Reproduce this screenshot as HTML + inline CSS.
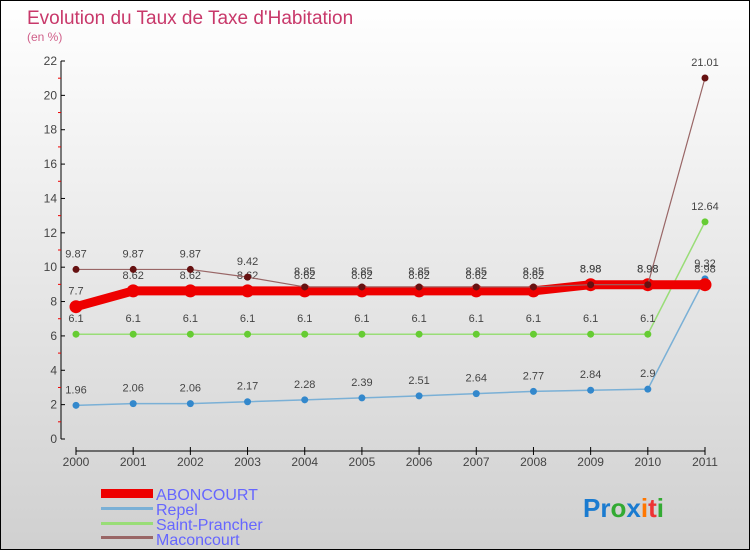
<!DOCTYPE html>
<html><head><meta charset="utf-8"><style>
body{margin:0}
#c{width:748px;height:548px;border:1px solid #000;background:linear-gradient(#ffffff,#d0d0d0);position:relative;font-family:"Liberation Sans",sans-serif}
</style></head><body>
<div id="c">
<svg id="s" width="748" height="548" style="position:absolute;left:0;top:0" font-family="Liberation Sans, sans-serif">
<text x="26" y="23" font-size="19" fill="#c8386a">Evolution du Taux de Taxe d'Habitation</text>
<text x="26" y="40" font-size="12" fill="#d0608a">(en %)</text>
<g id="axes"></g><g id="series"></g>
<g>
<rect x="100" y="488" width="52" height="9" fill="#e00"/>
<text x="155" y="499" font-size="16" fill="#6666ff">ABONCOURT</text>
<rect x="100" y="506" width="52" height="3" fill="#7ab0d6"/>
<text x="155" y="514" font-size="16" fill="#6666ff">Repel</text>
<rect x="100" y="521" width="52" height="3" fill="#99dd77"/>
<text x="155" y="529" font-size="16" fill="#6666ff">Saint-Prancher</text>
<rect x="100" y="535" width="52" height="3" fill="#996666"/>
<text x="155" y="544" font-size="16" fill="#6666ff">Maconcourt</text>
</g>
<text x="582" y="516" font-size="26" font-weight="bold"><tspan fill="#1a7bd0">Pr</tspan><tspan fill="#3a3">o</tspan><tspan fill="#1a7bd0">x</tspan><tspan fill="#f70">i</tspan><tspan fill="#e33">t</tspan><tspan fill="#3a3">i</tspan></text>
</svg>
</div>
<script>
const years=[2000,2001,2002,2003,2004,2005,2006,2007,2008,2009,2010,2011];
const yTicks=[0,2,4,6,8,10,12,14,16,18,20,22];
const aboncourt=[7.7,8.62,8.62,8.62,8.62,8.62,8.62,8.62,8.62,8.98,8.98,8.98];
const repel=[1.96,2.06,2.06,2.17,2.28,2.39,2.51,2.64,2.77,2.84,2.9,9.32];
const saintPrancher=[6.1,6.1,6.1,6.1,6.1,6.1,6.1,6.1,6.1,6.1,6.1,12.64];
const maconcourt=[9.87,9.87,9.87,9.42,8.85,8.85,8.85,8.85,8.85,8.98,8.98,21.01];
const NS="http://www.w3.org/2000/svg";
const X=i=>75+i*(629/11);
const Y=v=>438-v*(378/22);
function el(t,a,p){const e=document.createElementNS(NS,t);for(const k in a)e.setAttribute(k,a[k]);p.appendChild(e);return e;}
const ax=document.getElementById('axes');
const yl=el('line',{x1:60,y1:Y(22),x2:60,y2:Y(0),stroke:'#000'},ax);


const xl=el('line',{x1:X(0),y1:Y(0)+12,x2:X(11),y2:Y(0)+12,stroke:'#000'},ax);


yTicks.forEach(v=>{
 el('line',{x1:60,y1:Y(v),x2:64,y2:Y(v),stroke:'#000'},ax);
 if(v<22)el('line',{x1:57,y1:Y(v+1),x2:60,y2:Y(v+1),stroke:'#e00'},ax);
 const t=el('text',{x:56,y:Y(v)+4,'font-size':12,'text-anchor':'end',fill:'#444'},ax);t.textContent=v;
 
 
});
years.forEach((yr,i)=>{
 el('line',{x1:X(i),y1:Y(0)+8,x2:X(i),y2:Y(0)+16,stroke:'#000'},ax);
 const t=el('text',{x:X(i),y:Y(0)+27,'font-size':12,'text-anchor':'middle',fill:'#444'},ax);t.textContent=yr;
 
 
});
const sg=document.getElementById('series');
function draw(data,color,dot,w,r,name){
 const g=el('g',{},sg);
 
 
 const pl=el('polyline',{points:data.map((v,i)=>X(i)+','+Y(v)).join(' '),fill:'none',stroke:color,'stroke-width':w},g);
 data.forEach((v,i)=>{
  const c=el('circle',{cx:X(i),cy:Y(v),r:r,fill:dot},g);
  
  
  const t=el('text',{x:X(i),y:Y(v)-12,'font-size':11,'text-anchor':'middle',fill:'#444'},g);t.textContent=v;
  
  
 });
}
draw(saintPrancher,'#99dd77','#66cc33',1.5,3.5,'saint-prancher');
draw(repel,'#7ab0d6','#3388cc',1.5,3.5,'repel');
draw(aboncourt,'#ee0000','#ee0000',9,6.5,'aboncourt');
draw(maconcourt,'#996666','#661111',1.2,3.5,'maconcourt');
</script>
</body></html>
